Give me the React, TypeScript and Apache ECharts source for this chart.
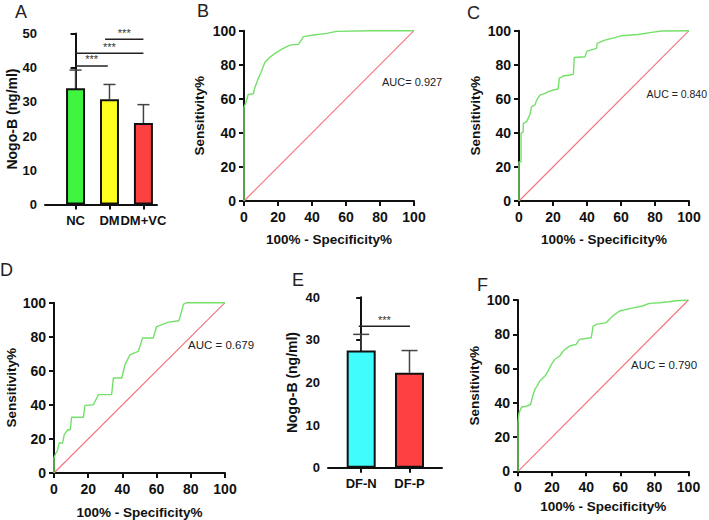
import React, { useEffect, useRef } from "react";
import * as echarts from "echarts";

// ---------- Data ----------
const catsA = ["NC", "DM", "DM+VC"];
const meansA = [34.0, 30.8, 23.8];
const errTopA = [39.3, 35.1, 29.2];
const colorsA = ["#3ff53f", "#ffff1f", "#ff4040"];
// significance brackets: [fromIndex, toIndex, yValue]
const sigA = [
  [0, 0.95, 40.5],
  [0, 2, 44.2],
  [0.87, 2, 48.3],
];

const catsE = ["DF-N", "DF-P"];
const meansE = [27.5, 22.3];
const errTopE = [31.3, 27.5];
const colorsE = ["#40fcfc", "#ff4040"];
const sigE = [[-0.05, 1.01, 33.2]];

const fprB = [0, 0, 1.2, 2.5, 5.5, 6.5, 8.4, 10, 12.3, 15.3, 18, 22, 27, 32, 33, 35, 41, 48.6, 54.5, 74, 100];
const tprB = [0, 55, 58, 62.5, 63, 67, 72, 75.5, 81.5, 84.5, 86.5, 89, 91.5, 92, 93.5, 96.5, 97.5, 98.4, 99.6, 100, 100];

const fprC = [0, 0, 1.2, 1.2, 2.5, 2.5, 4.5, 6.5, 7.4, 9.4, 10.4, 12.3, 15.3, 17.2, 20.2, 23, 23.7, 26, 30, 32, 32.5, 38.8, 40, 45.6, 46, 50.5, 56.4, 60, 70, 78, 84, 100];
const tprC = [0, 23, 23, 39.7, 40.7, 45.6, 46.6, 50.9, 55.4, 56.4, 59.3, 62.2, 63.2, 64.2, 65.2, 65.8, 72, 73.4, 74, 74.4, 84.3, 84.7, 88, 89.6, 92.5, 94.5, 95.9, 97, 97.8, 99, 99.8, 100];

const fprD = [0, 0, 1, 2, 3, 5, 6, 8, 9.5, 10.3, 17.2, 18.1, 23, 26, 33.7, 34.7, 39.6, 41.5, 44.5, 49.3, 51.8, 58, 60, 67, 73, 74.6, 75.8, 77.6, 100];
const tprD = [0, 9, 11.5, 13, 17.6, 17.6, 22.5, 25.4, 25.4, 32.7, 32.7, 39.7, 40.1, 46, 46, 55.8, 55.8, 63.6, 69.5, 71.4, 79.3, 79.3, 86, 88.6, 89.4, 94.9, 99.2, 100, 100];

const fprF = [0, 0, 0.6, 2.1, 5, 7.4, 8.6, 10, 11.3, 12.8, 15.8, 17.7, 19.7, 21.6, 24.5, 26.5, 30.4, 34, 36, 43, 44, 46, 51.8, 55.6, 59.6, 65.4, 73, 77, 83, 88.7, 92.6, 100];
const tprF = [0, 28.4, 34, 37.5, 38, 39, 44, 48, 50, 52.7, 55.6, 58.6, 62.5, 65.4, 67.3, 70.2, 73.2, 74, 77, 78, 84.8, 85.8, 86.8, 90.7, 93.6, 95, 96.5, 98, 98.4, 99, 99.6, 100];

const aucLabels = ["AUC= 0.927", "AUC = 0.840", "AUC = 0.679", "AUC = 0.790"];
const panelLetters = ["A", "B", "C", "D", "E", "F"];

// ---------- Styles ----------
const FONT = "'Liberation Sans', Arial, sans-serif";
const AX = "#111";
const ROC_GREEN = "#74e06a";
const DIAG = "#f2727c";

const axisLine = { show: true, lineStyle: { color: AX, width: 2 } };
const axisTick = { show: true, length: 5, lineStyle: { color: AX, width: 2 } };
const tickLabel = (size: number) => ({
  color: "#111",
  fontWeight: "bold" as const,
  fontFamily: FONT,
  fontSize: size,
});

function rocX(gridIndex: number, nameGap: number) {
  return {
    type: "value",
    gridIndex,
    min: 0,
    max: 100,
    interval: 20,
    name: "100% - Specificity%",
    nameLocation: "middle",
    nameGap,
    nameTextStyle: { ...tickLabel(13.5) },
    axisLine,
    axisTick,
    axisLabel: { ...tickLabel(14), margin: 9 },
    splitLine: { show: false },
  };
}
function rocY(gridIndex: number, nameGap: number) {
  return {
    type: "value",
    gridIndex,
    min: 0,
    max: 100,
    interval: 20,
    name: "Sensitivity%",
    nameLocation: "middle",
    nameGap,
    nameTextStyle: { ...tickLabel(13.5) },
    axisLine,
    axisTick,
    axisLabel: { ...tickLabel(14), margin: 8 },
    splitLine: { show: false },
  };
}

function zip(a: number[], b: number[]) {
  return a.map((v, i) => [v, b[i]]);
}

function rocSeries(axisIndex: number, fpr: number[], tpr: number[]) {
  return [
    {
      type: "line",
      xAxisIndex: axisIndex,
      yAxisIndex: axisIndex,
      data: [
        [0, 0],
        [100, 100],
      ],
      showSymbol: false,
      silent: true,
      lineStyle: { color: DIAG, width: 1.1 },
      z: 1,
    },
    {
      type: "line",
      xAxisIndex: axisIndex,
      yAxisIndex: axisIndex,
      data: zip(fpr, tpr),
      showSymbol: false,
      lineStyle: { color: ROC_GREEN, width: 1.4 },
      z: 2,
    },
  ];
}

function barSeries(axisIndex: number, means: number[], colors: string[], barWidth: number) {
  return {
    type: "bar",
    xAxisIndex: axisIndex,
    yAxisIndex: axisIndex,
    barWidth,
    data: means.map((m, i) => ({
      value: [i, m],
      itemStyle: { color: colors[i], borderColor: "#111", borderWidth: 2 },
    })),
    z: 3,
  };
}

function errSeries(axisIndex: number, means: number[], tops: number[], cap: number) {
  return {
    type: "custom",
    xAxisIndex: axisIndex,
    yAxisIndex: axisIndex,
    encode: { x: 0, y: [1, 2] },
    data: means.map((m, i) => [i, m, tops[i]]),
    renderItem: (_p: any, api: any) => {
      const x = api.value(0);
      const p0 = api.coord([x, api.value(1)]);
      const p1 = api.coord([x, api.value(2)]);
      const st = { stroke: "#444", lineWidth: 1.5 };
      return {
        type: "group",
        children: [
          { type: "line", shape: { x1: p0[0], y1: p0[1], x2: p1[0], y2: p1[1] }, style: st },
          { type: "line", shape: { x1: p1[0] - cap, y1: p1[1], x2: p1[0] + cap, y2: p1[1] }, style: st },
        ],
      };
    },
    z: 2,
  };
}

function sigSeries(axisIndex: number, sig: number[][]) {
  return {
    type: "custom",
    xAxisIndex: axisIndex,
    yAxisIndex: axisIndex,
    encode: { x: [0, 1], y: 2 },
    data: sig,
    renderItem: (_p: any, api: any) => {
      const y = api.value(2);
      const a = api.coord([api.value(0), y]);
      const b = api.coord([api.value(1), y]);
      return {
        type: "group",
        children: [
          { type: "line", shape: { x1: a[0], y1: a[1], x2: b[0], y2: b[1] }, style: { stroke: "#222", lineWidth: 1.5 } },
          {
            type: "text",
            x: (a[0] + b[0]) / 2,
            y: a[1] - 1,
            style: {
              text: "***",
              fill: "#333",
              fontSize: 11,
              fontFamily: FONT,
              align: "center",
              verticalAlign: "bottom",
            },
          },
        ],
      };
    },
    z: 4,
  };
}

function barX(gridIndex: number, cats: string[], min: number, max: number) {
  const idx = cats.map((_, i) => i);
  return {
    type: "value",
    gridIndex,
    min,
    max,
    axisLine,
    axisTick: { ...axisTick, customValues: idx },
    axisLabel: {
      ...tickLabel(13),
      margin: 9,
      customValues: idx,
      formatter: (v: number) => cats[Math.round(v)] ?? "",
    },
    splitLine: { show: false },
  };
}
function barY(gridIndex: number, max: number, nameGap: number) {
  return {
    type: "value",
    gridIndex,
    min: 0,
    max,
    interval: 10,
    name: "Nogo-B (ng/ml)",
    nameLocation: "middle",
    nameGap,
    nameTextStyle: { ...tickLabel(14) },
    axisLine,
    axisTick,
    axisLabel: { ...tickLabel(13), margin: 8 },
    splitLine: { show: false },
  };
}

function label(text: string, x: number, y: number) {
  return {
    type: "text",
    x,
    y,
    style: { text, fontSize: 18, fontFamily: FONT, fill: "#222", verticalAlign: "top" },
  };
}
function auc(text: string, x: number, y: number, size: number, align = "left") {
  return {
    type: "text",
    x,
    y,
    style: { text, fontSize: size, fontFamily: FONT, fill: "#222", verticalAlign: "middle", align },
  };
}

export default function App() {
  const ref = useRef<HTMLDivElement>(null);
  useEffect(() => {
    if (!ref.current) return;
    const chart = echarts.init(ref.current, null, { renderer: "svg" });
    const option: any = {
      animation: false,
      backgroundColor: "#ffffff",
      grid: [
        { left: 45, top: 33.5, width: 112, height: 171 }, // A
        { left: 244, top: 30.7, width: 170, height: 170.3 }, // B
        { left: 519, top: 30.7, width: 170, height: 170.3 }, // C
        { left: 54, top: 302.7, width: 171, height: 170.3 }, // D
        { left: 328, top: 297.3, width: 114, height: 170.4 }, // E
        { left: 518, top: 300, width: 170.5, height: 171.3 }, // F
      ],
      xAxis: [
        barX(0, catsA, -0.9, 2.4),
        rocX(1, 31),
        rocX(2, 31),
        rocX(3, 32),
        barX(4, catsE, -0.687, 1.673),
        rocX(5, 28),
      ],
      yAxis: [
        barY(0, 50, 23),
        rocY(1, 38),
        rocY(2, 37),
        rocY(3, 36),
        barY(4, 40, 29.5),
        rocY(5, 36.5),
      ],
      series: [
        barSeries(0, meansA, colorsA, 19),
        errSeries(0, meansA, errTopA, 6),
        sigSeries(0, sigA),
        ...rocSeries(1, fprB, tprB),
        ...rocSeries(2, fprC, tprC),
        ...rocSeries(3, fprD, tprD),
        barSeries(4, meansE, colorsE, 29),
        errSeries(4, meansE, errTopE, 8),
        sigSeries(4, sigE),
        ...rocSeries(5, fprF, tprF),
      ],
      graphic: [
        label(panelLetters[0], 15, 3),
        label(panelLetters[1], 197, 2),
        label(panelLetters[2], 467, 4),
        label(panelLetters[3], 0, 261),
        label(panelLetters[4], 292, 271),
        label(panelLetters[5], 477, 276),
        auc(aucLabels[0], 382, 82, 11),
        auc(aucLabels[1], 707, 94, 10.5, "right"),
        auc(aucLabels[2], 188, 345, 11.5),
        auc(aucLabels[3], 631, 365, 11.5),
      ],
    };
    chart.setOption(option);
    return () => chart.dispose();
  }, []);
  return (
    <div
      ref={ref}
      style={{ position: "fixed", left: 0, top: 0, width: 709, height: 520, background: "#fff" }}
    />
  );
}
